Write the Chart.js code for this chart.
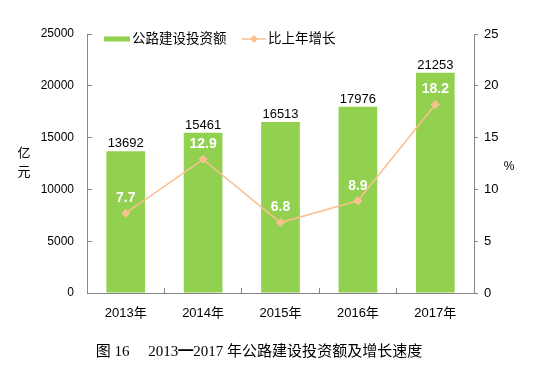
<!DOCTYPE html>
<html>
<head>
<meta charset="utf-8">
<script src="https://cdn.jsdelivr.net/npm/chart.js@4/dist/chart.umd.min.js"></script>
<style>
  html, body { margin: 0; padding: 0; background: #fff; }
  #wrap { width: 540px; height: 374px; }
</style>
</head>
<body>
<div id="wrap"><canvas id="chart"></canvas></div>
<script>
var years = ['2013年', '2014年', '2015年', '2016年', '2017年'];
var investment = [13692, 15461, 16513, 17976, 21253];
var growth = [7.7, 12.9, 6.8, 8.9, 18.2];
var leftTicks = [0, 5000, 10000, 15000, 20000, 25000];
var rightTicks = [0, 5, 10, 15, 20, 25];

var sans = '"Liberation Sans", Arial, "Noto Sans CJK SC", sans-serif';
var serif = '"Liberation Serif", "Times New Roman", "Noto Sans CJK SC", serif';
var barColor = '#92D050';
var lineColor = '#FAC090';
var axisColor = '#868686';

// value labels, axis units and legend drawn on the canvas
var extras = {
    id: 'extras',
    afterDatasetsDraw: function (chart) {
        var ctx = chart.ctx;
        ctx.save();
        var barMeta = chart.getDatasetMeta(0);
        ctx.font = '13px ' + sans;
        ctx.fillStyle = '#000';
        ctx.textAlign = 'center';
        ctx.textBaseline = 'bottom';
        barMeta.data.forEach(function (el, i) {
            ctx.fillText(investment[i], el.x, el.y - 1);
        });
        var lineMeta = chart.getDatasetMeta(1);
        ctx.font = 'bold 14px ' + sans;
        ctx.fillStyle = '#fff';
        ctx.textBaseline = 'middle';
        lineMeta.data.forEach(function (el, i) {
            ctx.fillText(growth[i].toFixed(1), el.x, el.y - 15);
        });
        ctx.restore();
    },
    afterDraw: function (chart) {
        var ctx = chart.ctx;
        ctx.save();
        ctx.fillStyle = '#000';
        ctx.textAlign = 'center';
        ctx.textBaseline = 'middle';
        ctx.font = '13px ' + sans;
        ctx.fillText('亿', 24, 153);
        ctx.fillText('元', 24, 172);
        ctx.font = '12px ' + sans;
        ctx.fillText('%', 509, 167);

        // legend
        var ly = 39;
        ctx.fillStyle = barColor;
        ctx.fillRect(104, ly - 2.5, 26, 5);
        ctx.fillStyle = '#000';
        ctx.textAlign = 'left';
        ctx.font = '13.5px ' + sans;
        ctx.fillText('公路建设投资额', 132, ly);
        ctx.strokeStyle = lineColor;
        ctx.lineWidth = 1.5;
        ctx.beginPath();
        ctx.moveTo(242, ly);
        ctx.lineTo(266, ly);
        ctx.stroke();
        ctx.fillStyle = lineColor;
        ctx.beginPath();
        ctx.moveTo(254, ly - 4);
        ctx.lineTo(258, ly);
        ctx.lineTo(254, ly + 4);
        ctx.lineTo(250, ly);
        ctx.closePath();
        ctx.fill();
        ctx.fillStyle = '#000';
        ctx.fillText('比上年增长', 268, ly);
        ctx.restore();
    }
};

new Chart(document.getElementById('chart'), {
    data: {
        labels: years,
        datasets: [{
            type: 'bar',
            label: '公路建设投资额',
            data: investment,
            backgroundColor: barColor,
            barPercentage: 0.5,
            categoryPercentage: 1,
            yAxisID: 'y',
            order: 1
        }, {
            type: 'line',
            label: '比上年增长',
            data: growth,
            borderColor: lineColor,
            borderWidth: 1.5,
            backgroundColor: lineColor,
            pointStyle: 'rectRot',
            pointRadius: 4.5,
            pointBorderWidth: 0,
            tension: 0,
            yAxisID: 'y1',
            order: 0
        }]
    },
    options: {
        responsive: true,
        maintainAspectRatio: false,
        animation: false,
        layout: { padding: { top: 34, left: 0, right: 22, bottom: 4 } },
        plugins: {
            legend: { display: false },
            tooltip: { enabled: false },
            title: {
                display: true,
                position: 'bottom',
                text: '图 16 　2013━2017 年公路建设投资额及增长速度',
                color: '#000',
                font: { family: serif, size: 15, weight: 'normal' },
                padding: { top: 0, bottom: 9 }
            }
        },
        scales: {
            x: {
                offset: true,
                grid: { offset: true, drawOnChartArea: false, tickLength: -5, color: axisColor },
                border: { color: axisColor },
                ticks: { color: '#000', font: { family: sans, size: 13 }, padding: 18 },
                afterFit: function (s) { s.height = 50; }
            },
            y: {
                position: 'left',
                min: 0,
                max: 25000,
                afterBuildTicks: function (s) { s.ticks = leftTicks.map(function (v) { return { value: v }; }); },
                grid: { drawOnChartArea: false, tickLength: -5, color: axisColor },
                border: { color: axisColor },
                ticks: {
                    color: '#000',
                    font: { family: sans, size: 12 },
                    padding: 18,
                    callback: function (v) { return String(v); }
                },
                afterFit: function (s) { s.width = 87; }
            },
            y1: {
                position: 'right',
                min: 0,
                max: 25,
                afterBuildTicks: function (s) { s.ticks = rightTicks.map(function (v) { return { value: v }; }); },
                grid: { drawOnChartArea: false, tickLength: 4, color: axisColor },
                border: { color: axisColor },
                ticks: { color: '#000', font: { family: sans, size: 13 }, padding: 6 },
                afterFit: function (s) { s.width = 44; }
            }
        }
    },
    plugins: [extras]
});
</script>
</body>
</html>
